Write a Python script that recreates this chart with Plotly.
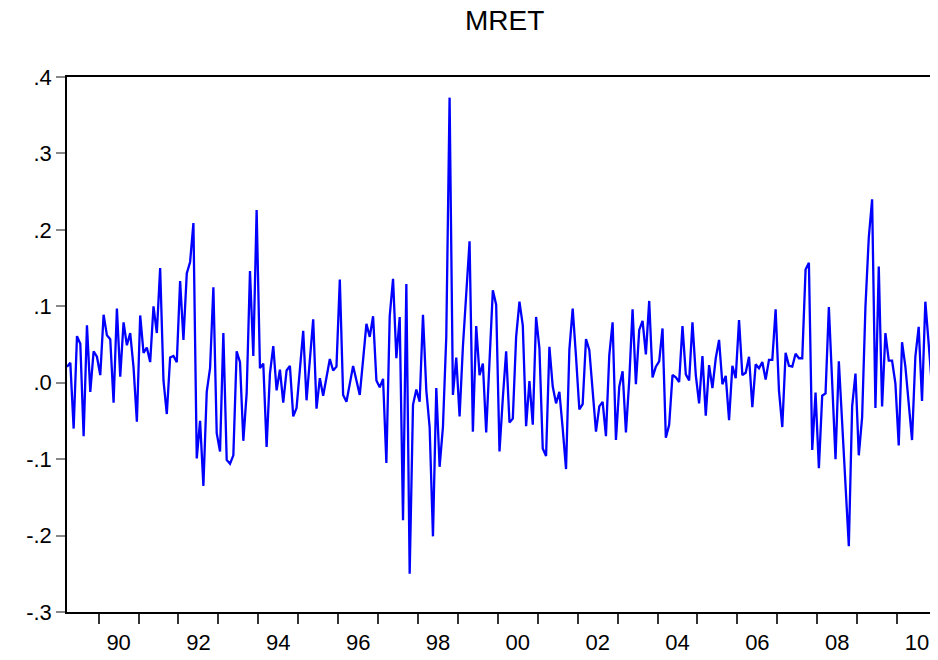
import plotly.graph_objects as go

# Monthly observations 1989M03 .. 2010M12
start_year = 1989
start_month = 3
mret = [
    0.021, 0.026, -0.060, 0.061, 0.051, -0.070, 0.075, -0.012, 0.041, 0.034,
    0.010, 0.089, 0.062, 0.057, -0.026, 0.097, 0.008, 0.079, 0.049, 0.065,
    0.020, -0.051, 0.088, 0.039, 0.046, 0.027, 0.100, 0.065, 0.150, 0.003,
    -0.041, 0.033, 0.035, 0.027, 0.133, 0.056, 0.143, 0.158, 0.209, -0.099,
    -0.050, -0.135, -0.012, 0.019, 0.125, -0.066, -0.090, 0.065, -0.101, -0.106,
    -0.095, 0.041, 0.027, -0.076, -0.014, 0.146, 0.035, 0.226, 0.019, 0.025,
    -0.084, 0.012, 0.048, -0.010, 0.017, -0.026, 0.016, 0.022, -0.044, -0.033,
    0.017, 0.068, -0.023, 0.030, 0.083, -0.034, 0.006, -0.017, 0.008, 0.031,
    0.016, 0.021, 0.135, -0.016, -0.025, -0.001, 0.022, 0.003, -0.016, 0.030,
    0.077, 0.060, 0.087, 0.003, -0.006, 0.005, -0.105, 0.087, 0.136, 0.032,
    0.086, -0.180, 0.129, -0.250, -0.029, -0.009, -0.025, 0.089, -0.010, -0.058,
    -0.201, -0.007, -0.110, -0.058, 0.060, 0.373, -0.016, 0.033, -0.044, 0.047,
    0.110, 0.185, -0.064, 0.074, 0.010, 0.025, -0.065, 0.030, 0.121, 0.102,
    -0.090, -0.020, 0.041, -0.052, -0.047, 0.060, 0.106, 0.075, -0.057, 0.002,
    -0.055, 0.086, 0.045, -0.086, -0.096, 0.047, -0.005, -0.027, -0.012, -0.060,
    -0.113, 0.043, 0.097, 0.034, -0.035, -0.028, 0.057, 0.043, -0.010, -0.064,
    -0.031, -0.025, -0.070, 0.036, 0.079, -0.075, -0.005, 0.015, -0.065, 0.003,
    0.096, -0.002, 0.069, 0.081, 0.037, 0.107, 0.007, 0.021, 0.028, 0.071,
    -0.072, -0.055, 0.010, 0.007, 0.001, 0.074, 0.011, 0.003, 0.079, 0.010,
    -0.027, 0.035, -0.043, 0.023, -0.007, 0.032, 0.056, -0.002, 0.009, -0.049,
    0.022, 0.006, 0.082, 0.010, 0.013, 0.034, -0.032, 0.024, 0.019, 0.027,
    0.004, 0.030, 0.030, 0.096, -0.010, -0.058, 0.039, 0.022, 0.021, 0.038,
    0.032, 0.032, 0.148, 0.157, -0.088, -0.013, -0.112, -0.017, -0.014, 0.099,
    0.000, -0.100, 0.028, -0.050, -0.130, -0.214, -0.031, 0.012, -0.095, -0.045,
    0.100, 0.190, 0.240, -0.033, 0.152, -0.031, 0.065, 0.029, 0.029, -0.001,
    -0.082, 0.053, 0.021, -0.027, -0.075, 0.034, 0.073, -0.024, 0.106, 0.051,
    -0.006, 0.017,
]

# time axis in fractional years (one entry per month)
t = [start_year + (start_month - 1 + k) / 12 for k in range(len(mret))]

tick_years = list(range(1990, 2012))
tick_labels = [f"{y % 100:02d}" if (y % 2 == 0 and y <= 2010) else "" for y in tick_years]
y_ticks = [0.4, 0.3, 0.2, 0.1, 0.0, -0.1, -0.2, -0.3]
y_labels = [".4", ".3", ".2", ".1", ".0", "-.1", "-.2", "-.3"]

font_family = "Liberation Sans, Arial, sans-serif"

fig = go.Figure()
fig.add_trace(go.Scatter(
    x=t, y=mret, mode="lines",
    line=dict(color="#0000FF", width=2.3),
    hoverinfo="skip", showlegend=False,
))

x_left = t[0]
x_right = t[0] + 870.5 / 39.9

# page body has an 8px margin, so the figure is sized/offset to compensate
fig.update_layout(
    width=930, height=652,
    margin=dict(l=59, r=0, t=69, b=48),
    paper_bgcolor="white", plot_bgcolor="white",
    title=dict(text="MRET", x=0.534, xanchor="center", y=0.997, yanchor="top",
               font=dict(family=font_family, size=28, color="black")),
    font=dict(family=font_family, color="black"),
    xaxis=dict(
        range=[x_left, x_right],
        tickmode="array",
        tickvals=[y - 1 / 24 for y in tick_years],
        ticktext=tick_labels,
        ticks="outside", ticklen=10, tickwidth=1.5, tickcolor="#333333",
        ticklabelshift=20,
        tickfont=dict(family=font_family, size=22, color="black"),
        showgrid=False, zeroline=False,
        showline=True, linecolor="black", linewidth=1.5,
        mirror=True,
    ),
    yaxis=dict(
        range=[-0.3, 0.4],
        tickmode="array",
        tickvals=y_ticks, ticktext=y_labels,
        ticks="outside", ticklen=9, tickwidth=1.5, tickcolor="#888888",
        ticklabelstandoff=0,
        tickfont=dict(family=font_family, size=22, color="black"),
        showgrid=False, zeroline=False,
        showline=True, linecolor="black", linewidth=1.5,
    ),
)

fig.write_html("out.html")
